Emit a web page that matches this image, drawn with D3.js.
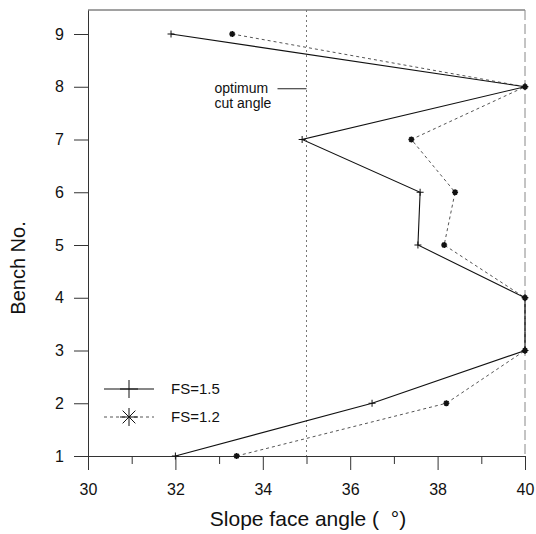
<!DOCTYPE html>
<html>
<head>
<meta charset="utf-8">
<script src="https://cdn.jsdelivr.net/npm/d3@7"></script>
<style>
  body { margin: 0; background: #fff; }
  svg text { font-family: "Liberation Sans", Arial, sans-serif; fill: #111; }
  .axis path, .axis line { stroke: #333; stroke-width: 1; }
</style>
</head>
<body>
<div id="chart"></div>
<script>
// bench numbers and slope face angles
var benches = [9, 8, 7, 6, 5, 4, 3, 2, 1];
var fs15 = [31.9, 40, 34.9, 37.6, 37.55, 40, 40, 36.5, 32.0];
var fs12 = [33.3, 40, 37.4, 38.4, 38.15, 40, 40, 38.2, 33.4];
var xMajor = [30, 32, 34, 36, 38, 40];
var xMinor = [31, 33, 35, 37, 39];
var yTicks = [1, 2, 3, 4, 5, 6, 7, 8, 9];
var optimumAngle = 35;

var W = 536, H = 534;
var margin = { top: 10, right: 11, bottom: 78, left: 88 };
var width = W - margin.left - margin.right,
    height = H - margin.top - margin.bottom;

var svg = d3.select("#chart").append("svg")
  .attr("width", W).attr("height", H)
  .append("g")
  .attr("transform", "translate(" + margin.left + "," + margin.top + ")");

var x = d3.scaleLinear().domain([30, 40]).range([0, width]);
var y = d3.scaleLinear().domain([1, 9.455]).range([height, 0]);

// frame: top edge darker, right edge faint dashes
svg.append("line")
  .attr("x1", 0).attr("x2", width).attr("y1", 0).attr("y2", 0)
  .attr("stroke", "#444").attr("stroke-width", 1);
svg.append("line")
  .attr("x1", width).attr("x2", width).attr("y1", 0).attr("y2", height)
  .attr("stroke", "#888").attr("stroke-width", 1)
  .attr("stroke-dasharray", "10,4");

// X axis: labelled even ticks, shorter odd ticks
svg.append("g")
  .attr("class", "axis")
  .attr("transform", "translate(0," + height + ")")
  .call(d3.axisBottom(x).tickValues(xMajor).tickSize(14).tickSizeOuter(0).tickPadding(14))
  .selectAll("text").style("font-size", "16px");
svg.append("g")
  .attr("class", "axis")
  .attr("transform", "translate(0," + height + ")")
  .call(d3.axisBottom(x).tickValues(xMinor).tickSize(8).tickSizeOuter(0).tickFormat(""))
  .select(".domain").remove();

// Y axis
svg.append("g")
  .attr("class", "axis")
  .call(d3.axisLeft(y).tickValues(yTicks).tickSize(14).tickSizeOuter(0).tickPadding(10))
  .selectAll("text").style("font-size", "16px");

// axis titles
svg.append("text")
  .attr("text-anchor", "middle")
  .attr("x", 308 - margin.left)
  .attr("y", height + 70)
  .style("font-size", "21px")
  .style("white-space", "pre")
  .text("Slope face angle (  °)");
svg.append("text")
  .attr("text-anchor", "middle")
  .attr("transform", "translate(" + (25 - margin.left) + "," + (268 - margin.top) + ")rotate(-90)")
  .style("font-size", "20px")
  .text("Bench No.");

// optimum cut angle line + label
svg.append("line")
  .attr("x1", x(optimumAngle)).attr("x2", x(optimumAngle))
  .attr("y1", 0).attr("y2", height)
  .attr("stroke", "#777")
  .attr("stroke-width", 1)
  .attr("stroke-dasharray", "2,3");
svg.append("line")
  .attr("x1", x(optimumAngle) - 29).attr("x2", x(optimumAngle))
  .attr("y1", y(8) + 2).attr("y2", y(8) + 2)
  .attr("stroke", "#222").attr("stroke-width", 1);
svg.append("text")
  .attr("x", x(optimumAngle) - 92).attr("y", y(8) + 6)
  .style("font-size", "14px").text("optimum");
svg.append("text")
  .attr("x", x(optimumAngle) - 92).attr("y", y(8) + 21)
  .style("font-size", "14px").text("cut angle");

// data series
var line = d3.line()
  .x(function(d) { return x(d.angle); })
  .y(function(d) { return y(d.bench); });

var data15 = benches.map(function(b, i) { return { bench: b, angle: fs15[i] }; });
var data12 = benches.map(function(b, i) { return { bench: b, angle: fs12[i] }; });

svg.append("path")
  .datum(data12)
  .attr("fill", "none")
  .attr("stroke", "#555")
  .attr("stroke-width", 1)
  .attr("stroke-dasharray", "3,3")
  .attr("d", line);

svg.append("path")
  .datum(data15)
  .attr("fill", "none")
  .attr("stroke", "#111")
  .attr("stroke-width", 1.1)
  .attr("d", line);

function plus(g, cx, cy, r, sw) {
  g.append("path")
    .attr("d", "M" + (cx - r) + "," + cy + "H" + (cx + r) + "M" + cx + "," + (cy - r) + "V" + (cy + r))
    .attr("stroke", "#111").attr("stroke-width", sw).attr("fill", "none");
}
function star(g, cx, cy, r, sw) {
  var d = "";
  for (var k = 0; k < 4; k++) {
    var a = k * Math.PI / 4;
    d += "M" + (cx - r * Math.cos(a)) + "," + (cy - r * Math.sin(a)) +
         "L" + (cx + r * Math.cos(a)) + "," + (cy + r * Math.sin(a));
  }
  g.append("path").attr("d", d)
    .attr("stroke", "#111").attr("stroke-width", sw).attr("fill", "none");
}

var markers = svg.append("g");
data15.forEach(function(d) { plus(markers, x(d.angle), y(d.bench), 3.5, 1); });
data12.forEach(function(d) { star(markers, x(d.angle), y(d.bench), 3, 1.6); });

// legend
var leg = svg.append("g").attr("transform", "translate(" + (104 - margin.left) + "," + (389 - margin.top) + ")");
leg.append("line").attr("x1", 0).attr("x2", 50).attr("y1", 0).attr("y2", 0)
  .attr("stroke", "#111").attr("stroke-width", 1.1);
plus(leg, 25, 0, 9, 1);
leg.append("text").attr("x", 67).attr("y", 5).style("font-size", "15px").text("FS=1.5");
leg.append("line").attr("x1", 0).attr("x2", 50).attr("y1", 28).attr("y2", 28)
  .attr("stroke", "#555").attr("stroke-width", 1).attr("stroke-dasharray", "3,3");
star(leg, 25, 28, 9, 1);
leg.append("text").attr("x", 67).attr("y", 33).style("font-size", "15px").text("FS=1.2");
</script>
</body>
</html>
